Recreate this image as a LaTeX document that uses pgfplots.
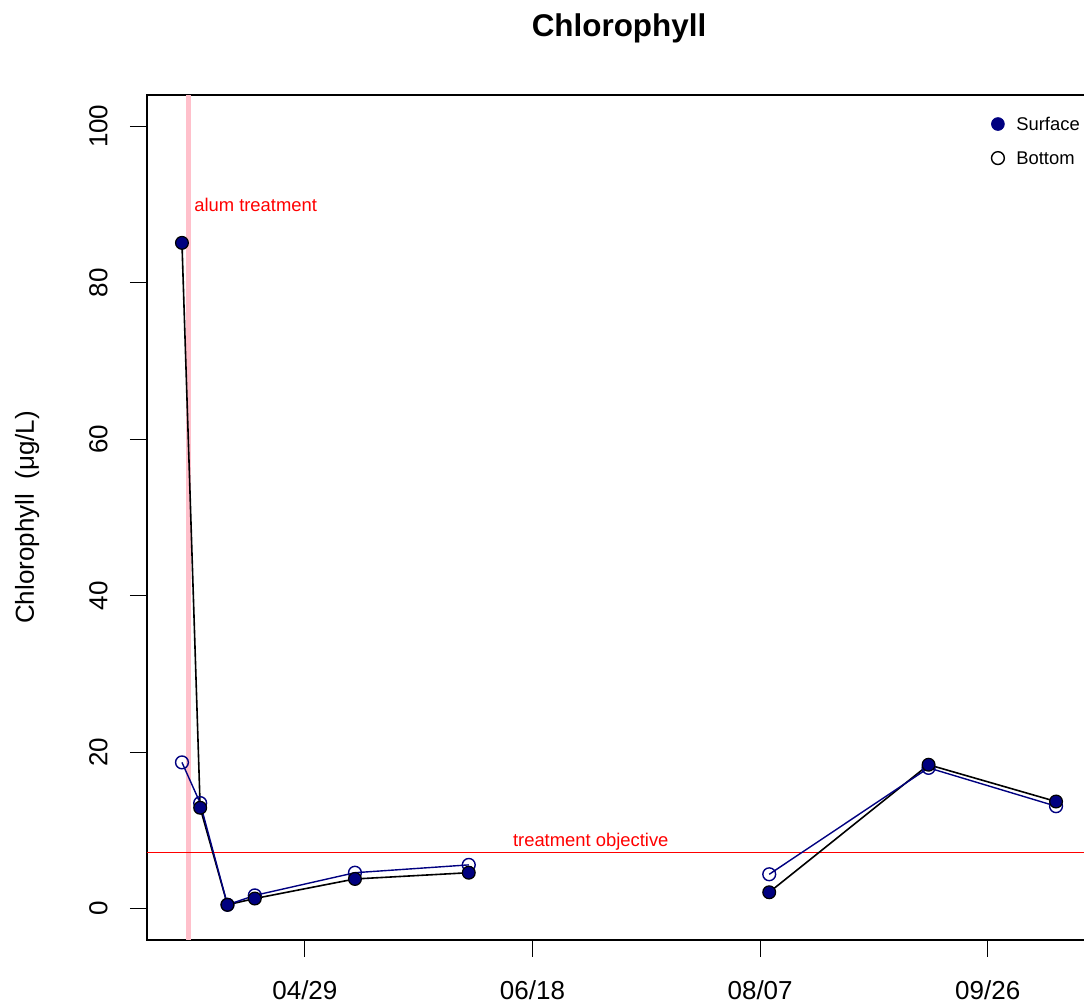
\documentclass[border=0pt]{standalone}
\usepackage{pgfplots}
\pgfplotsset{compat=1.18}
\usepackage{fontspec}
\setmainfont{Liberation Sans}
\definecolor{navyR}{HTML}{000080}
\definecolor{pinkR}{HTML}{FFC0CB}
\pgfplotstableread{
day surface bottom
92  85.1 18.7
96  12.9 13.5
102 0.5  0.5
108 1.3  1.7
130 3.8  4.6
155 4.6  5.6
nan nan  nan
221 2.1  4.4
256 18.4 18.0
284 13.7 13.1
}\chldata
\begin{document}
\begin{tikzpicture}
\useasboundingbox (0,0) rectangle (542pt,501pt);
\begin{axis}[
  at={(73.5pt,31pt)}, anchor=south west,
  scale only axis, width=472pt, height=422.5pt,
  xmin=84.32, xmax=291.68, ymin=-4, ymax=104,
  axis line style={line width=0.6pt},
  tick style={line width=0.6pt, black},
  tick align=outside, major tick length=8.5pt,
  xtick pos=left, ytick pos=left,
  xtick={119,169,219,269}, xticklabels={04/29,06/18,08/07,09/26},
  ytick={0,20,40,60,80,100},
  /pgf/number format/assume math mode=true,
  ticklabel style={font=\fontsize{13}{15}\selectfont},
  yticklabel style={rotate=90, anchor=south, inner sep=0pt},
  xticklabel style={anchor=north, inner sep=0pt},
  xticklabel shift=11.5pt, yticklabel shift=11pt,
  title={Chlorophyll},
  title style={at={(axis description cs:0.5,1.0545)}, anchor=base, yshift=0pt, font=\fontsize{15.7}{18}\selectfont\bfseries},
  ylabel={Chlorophyll\hspace{0.55em}(μg/L)},
  every axis y label/.style={at={(axis description cs:-0.1197,0.5)}, rotate=90, anchor=base, font=\fontsize{13}{15}\selectfont},
  unbounded coords=jump,
  clip=true,
  legend style={draw=none, fill=none, at={(axis description cs:0.9885,0.974)}, anchor=north east,
    font=\fontsize{9.2}{11}\selectfont, inner sep=0pt, row sep=10.5pt, column sep=6pt,
    nodes={inner sep=0pt, text depth=0pt}, cells={anchor=west}},
  legend image code/.code={\draw[#1] plot coordinates {(0pt,0pt)};},
]
\addplot[pinkR, line width=2.5pt, forget plot] coordinates {(93.41,-4) (93.41,104)};
\addplot[red, line width=0.6pt, forget plot] coordinates {(84.32,7.2) (291.68,7.2)};
\addplot[black, line width=0.8pt, forget plot] table[x=day, y=surface] {\chldata};
\addplot[navyR, line width=0.7pt, mark=o, mark size=3.2pt, mark options={line width=0.7pt, draw=navyR}, forget plot] table[x=day, y=bottom] {\chldata};
\addplot[only marks, mark=*, mark size=3.2pt, mark options={line width=0.6pt, draw=black, fill=navyR}, forget plot] table[x=day, y=surface] {\chldata};
\node[red, anchor=west, inner sep=0pt, xshift=2.75pt, font=\fontsize{9.2}{11}\selectfont] at (axis cs:93.41,90) {alum treatment};
\node[red, anchor=base, inner sep=0pt, yshift=3pt, font=\fontsize{9.2}{11}\selectfont] at (axis cs:181.8,7.2) {treatment objective};
\addlegendimage{only marks, mark=*, mark size=3.2pt, mark options={draw=navyR, fill=navyR}}
\addlegendentry{Surface}
\addlegendimage{only marks, mark=o, mark size=3.2pt, mark options={draw=black, line width=0.7pt}}
\addlegendentry{Bottom}
\end{axis}
\end{tikzpicture}
\end{document}
